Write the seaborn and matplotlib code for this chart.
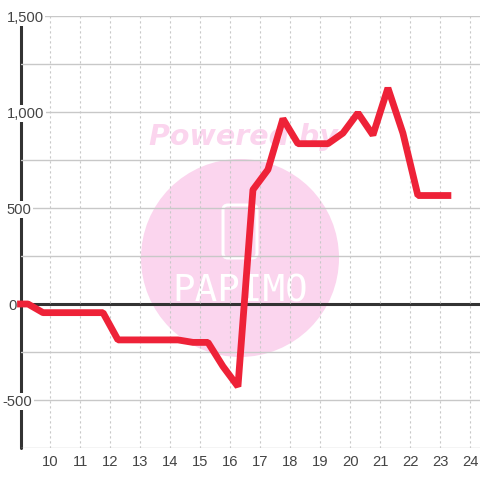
import matplotlib
matplotlib.use("Agg")
import matplotlib.pyplot as plt
import seaborn as sns
from matplotlib.patches import Circle, FancyBboxPatch

hours = [9.0, 9.25, 9.75, 10.25, 10.75, 11.25, 11.75, 12.25, 12.75, 13.25, 13.75, 14.25,
         14.75, 15.25, 15.75, 16.25, 16.75, 17.25, 17.75, 18.25, 18.75, 19.25, 19.75,
         20.25, 20.75, 21.25, 21.75, 22.25, 22.75, 23.25]
values = [0, 0, -45, -45, -45, -45, -45, -187, -187, -187, -187, -187,
          -200, -200, -325, -430, 595, 700, 965, 835, 835, 835, 890,
          995, 880, 1125, 890, 565, 565, 565]
x_ticks = list(range(10, 25))
y_ticks = [-500, 0, 500, 1000, 1500]
y_labels = ["-500", "0", "500", "1,000", "1,500"]
y_minor = [-750, -250, 250, 750, 1250]

sns.set_theme(style="whitegrid")
plt.rcParams['font.family'] = ['Liberation Sans', 'DejaVu Sans']

fig = plt.figure(figsize=(4.8, 4.8), dpi=100, facecolor='white')
ax = fig.add_axes([20.5 / 480, 32 / 480, 459.5 / 480, 432 / 480])
ax.patch.set_visible(False)

# watermark sits behind the axes
pink = '#fbd5ee'
fig.add_artist(Circle((240 / 480, 222 / 480), 99 / 480, transform=fig.transFigure,
                      facecolor=pink, edgecolor='none', zorder=-2))
fig.add_artist(FancyBboxPatch((228 / 480, 227 / 480), 24 / 480, 43 / 480,
                              boxstyle="round,pad=0.0104,rounding_size=0.0104",
                              transform=fig.transFigure, facecolor='none',
                              edgecolor='white', linewidth=2.2, zorder=-1))
fig.text(243 / 480, 343 / 480, "Powered by", color=pink, fontsize=20.5, family='DejaVu Sans',
         fontweight='bold', fontstyle='italic', ha='center', va='center', zorder=-1)
fig.text(240 / 480, 178 / 480, "PAPIMO", color='white', fontsize=27, family='DejaVu Sans Mono',
         ha='center', va='baseline', zorder=-1)

sns.lineplot(x=hours, y=values, color='#ee2238', linewidth=4.9, ax=ax, zorder=3,
             solid_joinstyle='bevel', solid_capstyle='projecting', errorbar=None, clip_on=False)

ax.set_xlim(9, 24.32)
ax.set_ylim(-750, 1500)
ax.set_xticks(x_ticks)
ax.set_yticks(y_ticks)
ax.set_yticklabels(y_labels)
ax.set_yticks(y_minor, minor=True)
ax.set_axisbelow(True)

ax.grid(True, axis='y', which='both', color='#c8c8c8', linewidth=1, linestyle='-')
ax.grid(True, axis='x', which='major', color='#c8c8c8', linewidth=0.8, linestyle=(0, (2, 2.5)))

for spine in ax.spines.values():
    spine.set_visible(False)

# axis lines are drawn under the tick labels, the labels cut through them
ax.axvline(9, color='#333333', linewidth=2.2, zorder=0.4, clip_on=False)
ax.axhline(0, color='#333333', linewidth=2.2, zorder=0.4)
ax.yaxis.get_major_ticks()[y_ticks.index(0)].gridline.set_visible(False)

ax.tick_params(axis='x', which='both', length=0, labelsize=10.6, labelcolor='#444444', pad=5)
ax.tick_params(axis='y', which='both', length=0, labelsize=10.6, labelcolor='#444444', pad=10)
for label, text in zip(ax.get_yticklabels(), y_labels):
    label.set_ha('left')
    label.set_bbox(dict(facecolor='white', edgecolor='none', pad=1.2))
    if text == "-500":
        label.set_x(-0.009)
    elif text == "0":
        label.set_x(0.004)

fig.savefig("out.png", dpi=100)
